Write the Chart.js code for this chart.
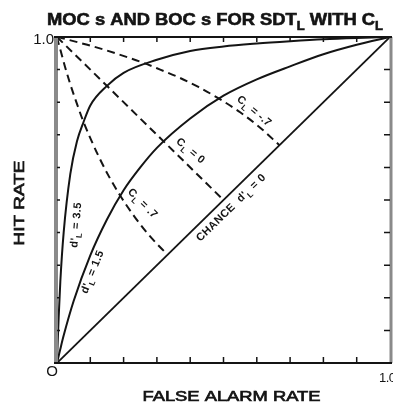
<!DOCTYPE html>
<html>
<head>
<meta charset="utf-8">
<script src="https://cdn.jsdelivr.net/npm/chart.js@4/dist/chart.umd.min.js"></script>
<style>
  html, body { margin: 0; padding: 0; background: #fff; }
  #wrap { position: relative; width: 393px; height: 410px; }
</style>
</head>
<body>
<div id="wrap"><canvas id="roc"></canvas></div>
<script>
// MOC curves (constant d'L) : false alarm rate -> hit rate
const faD35 = [0, 0.002, 0.005, 0.01, 0.02, 0.04, 0.06, 0.08, 0.1, 0.15, 0.2, 0.3, 0.4, 0.5, 0.6, 0.7, 0.8, 0.9, 1];
const hitD35 = [0, 0.062, 0.14, 0.25, 0.40, 0.58, 0.68, 0.74, 0.79, 0.85, 0.89, 0.93, 0.957, 0.971, 0.98, 0.987, 0.993, 0.997, 1];

const faD15 = [0, 0.01, 0.02, 0.05, 0.1, 0.15, 0.2, 0.25, 0.3, 0.4, 0.5, 0.6, 0.7, 0.8, 0.9, 1];
const hitD15 = [0, 0.043, 0.084, 0.19, 0.33, 0.44, 0.53, 0.60, 0.66, 0.75, 0.82, 0.87, 0.91, 0.947, 0.976, 1];

const faChance = [0, 1];
const hitChance = [0, 1];

// BOC curves (constant CL), running from (0, 1) down to the chance line
const faCpos = [0, 0.003, 0.009, 0.024, 0.039, 0.063, 0.079, 0.1, 0.125, 0.155, 0.19, 0.232, 0.279, 0.332];
const hitCpos = [1, 0.987, 0.965, 0.909, 0.858, 0.786, 0.741, 0.69, 0.634, 0.574, 0.513, 0.45, 0.389, 0.332];

const faC0 = [0, 0.5];
const hitC0 = [1, 0.5];

const faCneg = [0, 0.013, 0.036, 0.091, 0.142, 0.214, 0.259, 0.31, 0.366, 0.426, 0.488, 0.55, 0.611, 0.668];
const hitCneg = [1, 0.997, 0.991, 0.976, 0.961, 0.937, 0.921, 0.9, 0.876, 0.846, 0.81, 0.769, 0.721, 0.668];

// axis ticks every 0.1
const tickValues = [0, 0.1, 0.2, 0.3, 0.4, 0.5, 0.6, 0.7, 0.8, 0.9, 1];

const INK = '#141414';
const FONT = '"Liberation Sans", Arial, sans-serif';

function pts(xs, ys) {
  return xs.map((x, i) => ({ x, y: ys[i] }));
}

function curve(xs, ys, dashed, width) {
  return {
    data: pts(xs, ys),
    showLine: true,
    borderColor: INK,
    borderWidth: width || 2,
    borderDash: dashed ? [8, 5] : [],
    pointRadius: 0,
    cubicInterpolationMode: 'monotone',
    fill: false
  };
}

// text with subscript pieces, centred on (x, y) and turned by rot degrees
function drawRich(ctx, parts, x, y, rot, size, opts) {
  opts = opts || {};
  const weight = opts.weight || 'bold';
  const main = `${weight} ${size}px ${FONT}`;
  const sub = `${weight} ${Math.round(size * 0.72)}px ${FONT}`;
  ctx.save();
  ctx.translate(x, y);
  ctx.rotate(rot * Math.PI / 180);
  ctx.letterSpacing = (opts.spacing || 0) + 'px';
  let w = 0;
  parts.forEach(p => { ctx.font = p.sub ? sub : main; w += ctx.measureText(p.t).width; });
  if (opts.width) ctx.scale(opts.width / w, 1);
  ctx.textAlign = 'left';
  ctx.textBaseline = 'middle';
  ctx.fillStyle = INK;
  ctx.strokeStyle = INK;
  let cx = -w / 2;
  parts.forEach(p => {
    ctx.font = p.sub ? sub : main;
    const dy = p.sub ? size * 0.38 : 0;
    ctx.fillText(p.t, cx, dy);
    if (opts.stroke) { ctx.lineWidth = opts.stroke; ctx.strokeText(p.t, cx, dy); }
    cx += ctx.measureText(p.t).width;
  });
  ctx.restore();
}

// curve labels placed in data units
const curveLabels = [
  { parts: [{ t: 'C' }, { t: 'L', sub: true }, { t: ' = -.7' }], x: 0.592, y: 0.772, rot: 40 },
  { parts: [{ t: 'C' }, { t: 'L', sub: true }, { t: ' = 0' }], x: 0.401, y: 0.650, rot: 40 },
  { parts: [{ t: 'C' }, { t: 'L', sub: true }, { t: ' = .7' }], x: 0.257, y: 0.489, rot: 45 },
  { parts: [{ t: "d'" }, { t: 'L', sub: true }, { t: ' = 3.5' }], x: 0.058, y: 0.423, rot: -85 },
  { parts: [{ t: "d'" }, { t: 'L', sub: true }, { t: ' = 1.5' }], x: 0.107, y: 0.279, rot: -68 },
  { parts: [{ t: "CHANCE  d'" }, { t: 'L', sub: true }, { t: ' = 0' }], x: 0.523, y: 0.476, rot: -44 }
];

const frame = {
  id: 'frame',
  afterDatasetsDraw(chart) {
    const ctx = chart.ctx;
    const xs = chart.scales.x, ys = chart.scales.y;
    const L = xs.getPixelForValue(0), R = xs.getPixelForValue(1);
    const T = ys.getPixelForValue(1), B = ys.getPixelForValue(0);
    ctx.save();
    ctx.lineCap = 'butt';

    // left and right edges are grey and heavier
    ctx.strokeStyle = '#8a8a8a';
    ctx.lineWidth = 4;
    ctx.beginPath(); ctx.moveTo(L - 1, T); ctx.lineTo(L - 1, B); ctx.stroke();
    ctx.lineWidth = 3;
    ctx.beginPath(); ctx.moveTo(R + 1, T); ctx.lineTo(R + 1, B); ctx.stroke();

    ctx.strokeStyle = INK;
    ctx.lineWidth = 2;
    ctx.beginPath();
    ctx.moveTo(L - 3, T); ctx.lineTo(R + 2, T);
    ctx.moveTo(L - 3, B); ctx.lineTo(R + 2, B);
    ctx.stroke();

    // inward ticks
    ctx.lineWidth = 1.5;
    ctx.beginPath();
    tickValues.slice(1, -1).forEach(v => {
      const px = xs.getPixelForValue(v);
      ctx.moveTo(px, B); ctx.lineTo(px, B - 6);
      ctx.moveTo(px, T); ctx.lineTo(px, T + 5);
      const py = ys.getPixelForValue(v);
      ctx.moveTo(L, py); ctx.lineTo(L + 3, py);
      ctx.moveTo(R, py); ctx.lineTo(R - 6, py);
    });
    ctx.stroke();

    // corner values
    ctx.fillStyle = INK;
    ctx.font = `15px ${FONT}`;
    ctx.textBaseline = 'middle';
    ctx.textAlign = 'right';
    ctx.fillText('1.0', L - 3, T + 3);
    ctx.textAlign = 'center';
    ctx.fillText('O', L - 5, B + 9);
    ctx.textAlign = 'left';
    ctx.font = `13px ${FONT}`;
    ctx.letterSpacing = '-0.5px';
    ctx.fillText('1.0', R - 11, B + 15);
    ctx.letterSpacing = '0px';

    curveLabels.forEach(l => {
      drawRich(ctx, l.parts, xs.getPixelForValue(l.x), ys.getPixelForValue(l.y), l.rot, 11, { spacing: 0.4 });
    });

    // titles
    drawRich(ctx, [{ t: 'MOC s AND BOC s FOR SDT' }, { t: 'L', sub: true }, { t: ' WITH C' }, { t: 'L', sub: true }],
      215, 20, 0, 17, { width: 336, stroke: 0.6 });
    drawRich(ctx, [{ t: 'FALSE ALARM RATE' }], (L + R) / 2 + 8, 397, 0, 15, { weight: 'normal', width: 178, stroke: 0.7 });
    drawRich(ctx, [{ t: 'HIT RATE' }], 20, 203, -90, 15, { weight: 'normal', width: 85, stroke: 0.7 });
    ctx.restore();
  }
};

new Chart(document.getElementById('roc'), {
  type: 'scatter',
  data: {
    datasets: [
      curve(faD35, hitD35, false),
      curve(faD15, hitD15, false),
      curve(faChance, hitChance, false, 1.8),
      curve(faCpos, hitCpos, true),
      curve(faC0, hitC0, true),
      curve(faCneg, hitCneg, true)
    ]
  },
  options: {
    responsive: true,
    maintainAspectRatio: false,
    animation: false,
    layout: { padding: { left: 57, right: 3, top: 37, bottom: 47 } },
    plugins: { legend: { display: false }, tooltip: { enabled: false } },
    scales: {
      x: { type: 'linear', min: 0, max: 1, display: false },
      y: { type: 'linear', min: 0, max: 1, display: false }
    }
  },
  plugins: [frame]
});
</script>
</body>
</html>
